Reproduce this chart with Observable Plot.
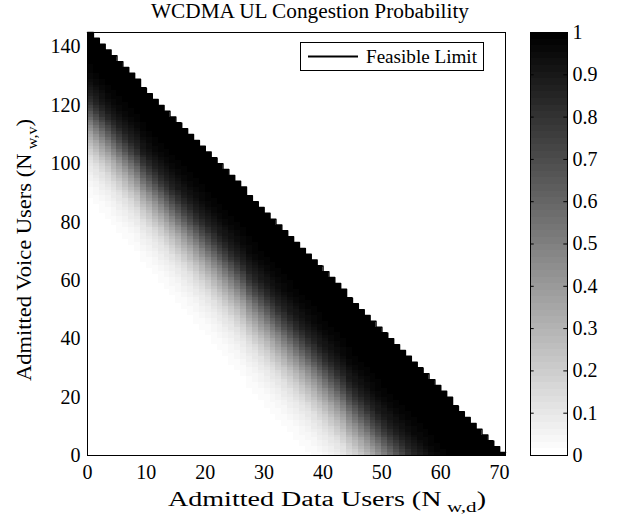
<!DOCTYPE html>
<html><head><meta charset="utf-8">
<script src="https://cdn.jsdelivr.net/npm/d3@7"></script>
<script src="https://cdn.jsdelivr.net/npm/@observablehq/plot@0.6"></script>
<style>
body{margin:0;background:#fff;}
#wrap{position:relative;width:620px;height:520px;font-family:"Liberation Serif",serif;}
#main,#cbar{position:absolute;top:0;}
#main{left:0;} #cbar{left:520px;}
svg text{font-family:"Liberation Serif",serif;}
</style></head>
<body><div id="wrap"><div id="main"></div><div id="cbar"></div></div>
<script>
// Admitted data users (columns) and the feasible voice limit read for each column
const dataUsers = [0,1,2,3,4,5,6,7,8,9,10,11,12,13,14,15,16,17,18,19,20,21,22,23,24,25,26,27,28,29,30,31,32,33,34,35,36,37,38,39,40,41,42,43,44,45,46,47,48,49,50,51,52,53,54,55,56,57,58,59,60,61,62,63,64,65,66,67,68,69,70];
const voiceLimit = [144,142,140,138,136,134,132,130,128,125,123,121,119,117,115,113,111,109,107,105,103,101,99,97,95,93,91,88,86,84,82,80,78,76,74,72,70,68,66,64,62,60,58,56,53,51,49,47,45,43,41,39,37,35,33,31,29,27,25,23,21,19,16,14,12,10,8,6,4,2,0];
// Where the grey band sits (voice users below the limit at p = 0.5) and how wide it is, read at sampled columns
const sampleData = [0,10,20,30,40,50,60,70];
const centerBelowLimit = [31,33,35,37,39,41,42,43];
const bandSpread = [1.05,1.1,1.15,1.2,1.2,1.2,1.2,1.2];
// Congestion probability read across the band (offset in voice users from its centre)
const profileOffset = [-25,-20,-15,-10,-7,-4,0,4,8,12,16,20,25,30,35];
const profileProb = [1,0.99,0.96,0.88,0.8,0.68,0.5,0.34,0.21,0.12,0.07,0.035,0.012,0.003,0];
// Tick labels
const xTicks = [0,10,20,30,40,50,60,70];
const yTicks = [0,20,40,60,80,100,120,140];
const colorTicks = [0,0.1,0.2,0.3,0.4,0.5,0.6,0.7,0.8,0.9,1];

const centerAt = d3.scaleLinear(sampleData, centerBelowLimit);
const spreadAt = d3.scaleLinear(sampleData, bandSpread);
const probAt = d3.scaleLinear(profileOffset, profileProb).clamp(true);

const cells = [];
dataUsers.forEach((d, i) => {
  const lim = voiceLimit[i];
  for (let v = 0; v <= lim; v++) {
    const o = ((lim - v) - centerAt(d)) / spreadAt(d);
    cells.push({x1: d, x2: d + 1, y1: v, y2: v + 1, p: probAt(o)});
  }
});
const limitLine = dataUsers.map((d, i) => ({d, top: voiceLimit[i] + 1}));
limitLine.push({d: dataUsers[dataUsers.length - 1] + 1, top: voiceLimit[voiceLimit.length - 1] + 1});

const grayInterp = t => {
  const lvl = Math.max(0, Math.min(63, Math.floor(t * 64)));
  const g = Math.round(255 * (1 - lvl / 63));
  return `rgb(${g},${g},${g})`;
};
const colorOpts = {type: "linear", domain: [0, 1], interpolate: grayInterp};

const main = Plot.plot({
  width: 520, height: 520,
  marginLeft: 87, marginRight: 15, marginTop: 32, marginBottom: 65,
  style: {fontFamily: "Liberation Serif", fontSize: "20px", background: "white", color: "black"},
  x: {domain: [0, 71], ticks: xTicks, tickSize: 0, tickPadding: 9, label: null},
  y: {domain: [0, 145], ticks: yTicks, tickSize: 0, tickPadding: 7, label: null},
  color: colorOpts,
  marks: [
    Plot.rect(cells, {x1: "x1", x2: "x2", y1: "y1", y2: "y2", fill: "p", shapeRendering: "crispEdges"}),
    Plot.line(limitLine, {x: "d", y: "top", curve: "step-after", stroke: "black", strokeWidth: 1.5}),
    Plot.frame({stroke: "black"})
  ]
});
document.getElementById("main").appendChild(main);

const svg = d3.select(main);
svg.append("text").attr("x", 310).attr("y", 18).attr("text-anchor", "middle")
  .attr("font-size", 20).attr("fill", "black")
  .attr("textLength", 318).attr("lengthAdjust", "spacingAndGlyphs")
  .text("WCDMA UL Congestion Probability");

const xl = svg.append("text").attr("x", 327).attr("y", 506).attr("text-anchor", "middle")
  .attr("font-size", 20).attr("fill", "black")
  .attr("textLength", 318).attr("lengthAdjust", "spacingAndGlyphs");
xl.append("tspan").text("Admitted Data Users (N");
xl.append("tspan").attr("dx", 4).attr("dy", 6).attr("font-size", 15).text("w,d");
xl.append("tspan").attr("dy", -6).text(")");

const yl = svg.append("text").attr("transform", "translate(31,250) rotate(-90)")
  .attr("text-anchor", "middle").attr("font-size", 21).attr("fill", "black")
  .attr("textLength", 262).attr("lengthAdjust", "spacingAndGlyphs");
yl.append("tspan").text("Admitted Voice Users (N");
yl.append("tspan").attr("dx", 4).attr("dy", 6).attr("font-size", 15).text("w,v");
yl.append("tspan").attr("dy", -6).text(")");

const lg = svg.append("g");
lg.append("rect").attr("x", 300.5).attr("y", 42.5).attr("width", 183).attr("height", 28)
  .attr("fill", "white").attr("stroke", "black");
lg.append("line").attr("x1", 308).attr("x2", 358).attr("y1", 56.5).attr("y2", 56.5)
  .attr("stroke", "black").attr("stroke-width", 2);
lg.append("text").attr("x", 366).attr("y", 62.5).attr("text-anchor", "start")
  .attr("font-size", 19).attr("fill", "black")
  .attr("textLength", 111).attr("lengthAdjust", "spacingAndGlyphs").text("Feasible Limit");

const levels = d3.range(64).map(i => ({x1: 0, x2: 1, y1: i / 64, y2: (i + 1) / 64, v: (i + 0.5) / 64}));
const cbar = Plot.plot({
  width: 100, height: 520,
  marginLeft: 10, marginRight: 53, marginTop: 32, marginBottom: 65,
  style: {fontFamily: "Liberation Serif", fontSize: "20px", background: "white", color: "black"},
  x: {domain: [0, 1], axis: null},
  y: {domain: [0, 1], ticks: colorTicks, axis: "right", tickSize: 0, tickPadding: 5,
      tickFormat: d => String(+d.toFixed(1)), label: null},
  color: colorOpts,
  marks: [
    Plot.rect(levels, {x1: "x1", x2: "x2", y1: "y1", y2: "y2", fill: "v", shapeRendering: "crispEdges"}),
    Plot.ruleY(colorTicks, {x1: () => 0, x2: () => 0.1, stroke: "black"}),
    Plot.ruleY(colorTicks, {x1: () => 0.9, x2: () => 1, stroke: "black"}),
    Plot.frame({stroke: "black"})
  ]
});
document.getElementById("cbar").appendChild(cbar);
</script>
</body></html>
